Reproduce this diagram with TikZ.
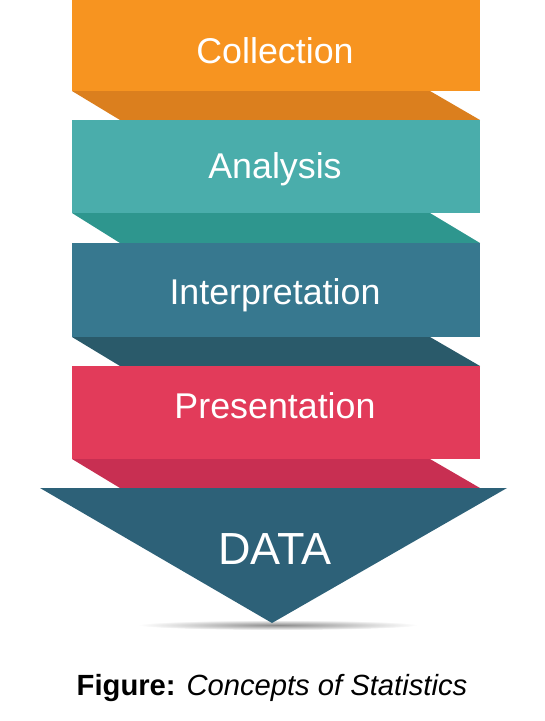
\documentclass[tikz,border=0pt]{standalone}
\usepackage{fontspec}
\setmainfont{Liberation Sans}
\usetikzlibrary{calc}

\definecolor{collectC}{RGB}{247,148,32}
\definecolor{collectF}{RGB}{219,127,30}
\definecolor{analysisC}{RGB}{74,173,171}
\definecolor{analysisF}{RGB}{46,150,142}
\definecolor{interpC}{RGB}{55,120,143}
\definecolor{interpF}{RGB}{42,90,106}
\definecolor{presentC}{RGB}{226,59,90}
\definecolor{presentF}{RGB}{200,47,82}
\definecolor{dataC}{RGB}{45,97,120}

\tikzset{
  bandlabel/.style={anchor=base,text=white,font=\fontsize{35.8}{40}\selectfont},
}

\begin{document}
\begin{tikzpicture}[x=1pt,y=-1pt]
\useasboundingbox (0,0) rectangle (545,721);
% folds
\fill[collectF] (72,91)--(430,91)--(480,120)--(120,120)--cycle;
\fill[analysisF] (72,213)--(430,213)--(480,243)--(120,243)--cycle;
\fill[interpF] (72,337)--(430,337)--(480,366)--(120,366)--cycle;
\fill[presentF] (72,459)--(430,459)--(480,488)--(120,488)--cycle;
% bands
\fill[collectC] (72,-2) rectangle (480,91);
\fill[analysisC] (72,120) rectangle (480,213);
\fill[interpC] (72,243) rectangle (480,337);
\fill[presentC] (72,366) rectangle (480,459);
% shadow and arrow
\shade[inner color=black!45,outer color=white] (278,625) ellipse (140 and 5);
\fill[dataC] (40,488)--(507,488)--(272,623)--cycle;
% labels
\node[bandlabel] (collect) at (275,63) {Collection};
\node[bandlabel] (analysis) at (275,178) {Analysis};
\node[bandlabel] (interp) at (275,304) {Interpretation};
\node[bandlabel] (present) at (275,418) {Presentation};
\node[bandlabel,font=\fontsize{45}{50}\selectfont] (data) at (275,564) {DATA};
\node[anchor=base,font=\fontsize{29.2}{34}\selectfont] (caption) at (272,695)
  {\textbf{Figure:} \textit{Concepts of Statistics}};
\end{tikzpicture}
\end{document}
